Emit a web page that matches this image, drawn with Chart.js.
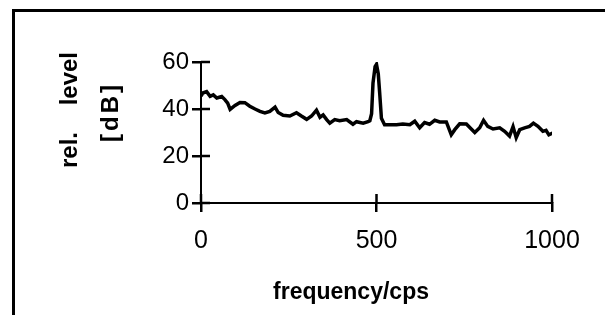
<!DOCTYPE html>
<html>
<head>
<meta charset="utf-8">
<script src="https://cdn.jsdelivr.net/npm/chart.js@4.4.0/dist/chart.umd.min.js"></script>
<style>
  html, body { margin: 0; padding: 0; background: #fff; }
  #wrap { position: relative; width: 605px; height: 315px; overflow: hidden; }
  #frame { position: absolute; left: 12px; top: 9px; width: 700px; height: 400px;
           border-top: 3px solid #000; border-left: 3px solid #000; }
  canvas { position: absolute; left: 0; top: 0; }
</style>
</head>
<body>
<div id="wrap">
  <div id="frame"></div>
  <canvas id="c" width="605" height="315"></canvas>
</div>
<script>
// Frequencies (cps) and relative levels (dB)
const frequencies = [0, 5, 16, 26, 35, 45, 59, 68, 76, 83, 97, 111, 125, 139, 154, 168, 182, 196, 211, 220,
  234, 253, 272, 286, 301, 315, 329, 339, 348, 358, 367, 381, 395, 415, 433, 443, 462, 476, 481, 486,
  490, 496, 500, 505, 509, 514, 523, 538, 557, 575, 595, 609, 623, 637, 651, 666, 680, 699, 713, 723,
  737, 756, 770, 780, 794, 805, 817, 832, 851, 865, 879, 889, 898, 908, 922, 936, 947, 960, 974, 983, 991, 1002];
const levels = [45.5, 46.8, 47.4, 45.4, 46, 44.7, 45.3, 44, 42.5, 39.8, 41.5, 42.8, 42.7, 41.2, 40, 39, 38.3, 39, 40.8, 38.5,
  37.3, 37, 38.4, 37, 35.6, 37, 39.5, 36.5, 37.5, 35.5, 34, 35.5, 35, 35.5, 33.5, 34.6, 34, 34.6, 35, 38,
  51, 58, 59, 55, 47, 36, 33.3, 33.3, 33.3, 33.6, 33.3, 34.8, 32, 34.2, 33.5, 35.2, 34.5, 34.5, 29, 31.2,
  33.7, 33.6, 31.5, 30, 32, 35.2, 32.6, 31.5, 32, 30.5, 28.5, 32.5, 27.8, 31.2, 32, 32.6, 34, 32.6, 30.5, 30.9, 29, 29.8];
const xTicks = [0, 500, 1000];
const yTicks = [0, 20, 40, 60];
const xTitle = 'frequency/cps';
const yTitleLines = ['rel.    level', '[dB]'];

const FONT = '"Liberation Sans", Arial, Helvetica, sans-serif';

const innerTicks = {
  id: 'innerTicks',
  afterDraw(chart) {
    const ctx = chart.ctx, xs = chart.scales.x, ys = chart.scales.y;
    const a = chart.chartArea;
    ctx.save();
    ctx.strokeStyle = '#000';
    ctx.lineWidth = 2.5;
    ctx.beginPath();
    xTicks.forEach(v => { const px = xs.getPixelForValue(v); ctx.moveTo(px, a.bottom); ctx.lineTo(px, a.bottom - 9); });
    yTicks.forEach(v => { const py = ys.getPixelForValue(v); ctx.moveTo(a.left, py); ctx.lineTo(a.left + 9, py); });
    ctx.stroke();
    // axis titles
    ctx.fillStyle = '#000';
    ctx.font = 'bold 23px ' + FONT;
    ctx.textAlign = 'center';
    ctx.textBaseline = 'middle';
    ctx.fillText(xTitle, 351, 293);
    ctx.font = 'bold 24px ' + FONT;
    ctx.save();
    ctx.translate(70, 110);
    ctx.rotate(-Math.PI / 2);
    ctx.fillText(yTitleLines[0], 0, 0);
    ctx.restore();
    ctx.save();
    ctx.translate(111, 112);
    ctx.rotate(-Math.PI / 2);
    try { ctx.letterSpacing = '3px'; } catch (e) {}
    ctx.fillText(yTitleLines[1], 0, 0);
    ctx.restore();
    ctx.restore();
  }
};

new Chart(document.getElementById('c'), {
  type: 'line',
  data: {
    datasets: [{
      data: frequencies.map((f, i) => ({ x: f, y: levels[i] })),
      borderColor: '#000',
      borderWidth: 3.5,
      pointRadius: 0,
      tension: 0,
      fill: false
    }]
  },
  options: {
    responsive: false,
    animation: false,
    devicePixelRatio: 1,
    layout: { padding: { left: 0, right: 53, top: 62, bottom: 0 } },
    plugins: { legend: { display: false }, tooltip: { enabled: false } },
    scales: {
      x: {
        type: 'linear', min: 0, max: 1000,
        afterBuildTicks: s => { s.ticks = xTicks.map(v => ({ value: v })); },
        afterFit: s => { s.height = 315 - 203; },
        ticks: { color: '#000', font: { family: FONT, size: 25 }, padding: 14, maxRotation: 0,
                 callback: v => String(v) },
        grid: { display: true, drawOnChartArea: false, drawTicks: true, tickLength: 9, color: '#000', lineWidth: 2.5 },
        border: { display: true, color: '#000', width: 2 }
      },
      y: {
        type: 'linear', min: 0, max: 60,
        afterBuildTicks: s => { s.ticks = yTicks.map(v => ({ value: v })); },
        afterFit: s => { s.width = 201; },
        ticks: { color: '#000', font: { family: FONT, size: 24 }, padding: 3, callback: v => String(v) },
        grid: { display: true, drawOnChartArea: false, drawTicks: true, tickLength: 9, color: '#000', lineWidth: 2.5 },
        border: { display: true, color: '#000', width: 2 }
      }
    }
  },
  plugins: [innerTicks]
});
</script>
</body>
</html>
